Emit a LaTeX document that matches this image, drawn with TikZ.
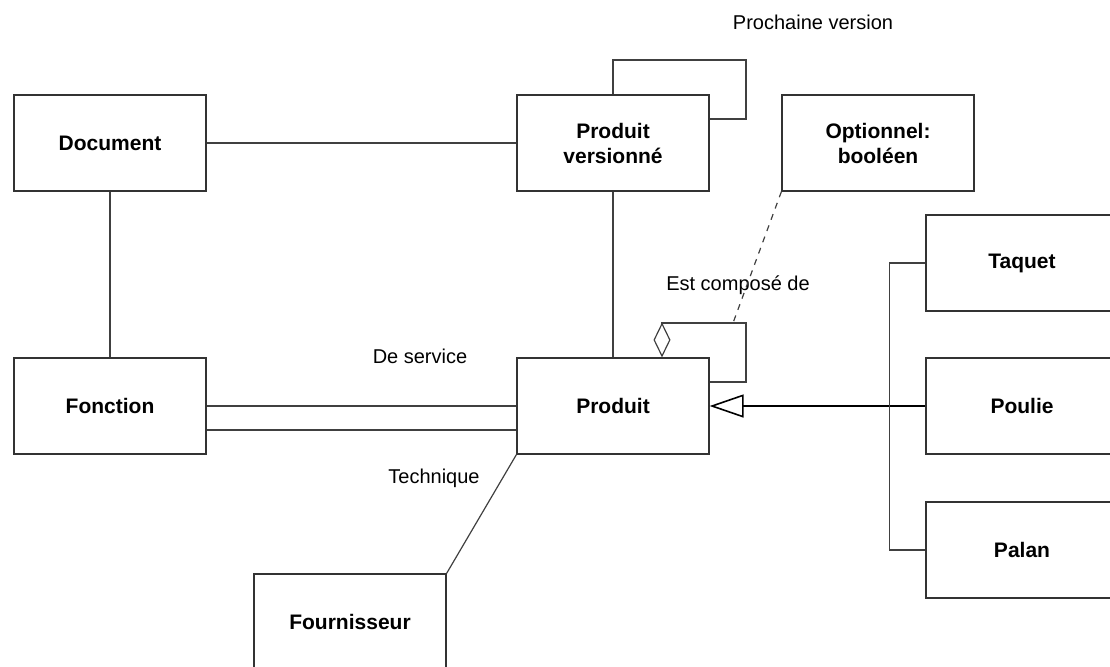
\documentclass[tikz,border=0pt]{standalone}
\usepackage{fontspec}
\setmainfont{Liberation Sans}
\usetikzlibrary{arrows.meta, positioning, calc}

\begin{document}
\begin{tikzpicture}[x=0.5pt, y=-0.5pt,
    classe/.style={rectangle, draw=black!80, line width=0.6pt, minimum width=96pt,
                   minimum height=48pt, align=center, font=\bfseries\fontsize{10.5}{12.5}\selectfont},
    role/.style={font=\fontsize{10}{12}\selectfont},
    assoc/.style={-, line width=0.6pt, black!75}
]
\clip (0,0) rectangle (1110,666);

% Classes
\node[classe] (doc) at (110,143) {Document};
\node[classe] (pv) at (613,143) {Produit\\versionné};
\node[classe] (opt) at (878,143) {Optionnel:\\booléen};
\node[classe] (fn) at (110,406) {Fonction};
\node[classe] (pr) at (613,406) {Produit};
\node[classe] (fo) at (350,622) {Fournisseur};
\node[classe] (taquet) at (1022,263) {Taquet};
\node[classe] (poulie) at (1022,406) {Poulie};
\node[classe] (palan) at (1022,550) {Palan};

% Labels
\node[role] (lversion) at (813,22) {Prochaine version};
\node[role] (lcompose) at (738,285) {Est composé de};
\node[role] (lservice) at (420,356) {De service};
\node[role] (ltech) at (434,478) {Technique};

% Associations
\draw[assoc] (doc) -- (pv);
\draw[assoc] (doc) -- (fn);
\draw[assoc] (pv) -- (pr);
\draw[assoc] (fn.east) -- (pr.west);
\draw[assoc] ($(fn.east)+(0,24)$) -- ($(pr.west)+(0,24)$);
\draw[assoc] (pr.south west) -- (fo.north east);

% Prochaine version
\coordinate (vtop) at (746,60);
\draw[assoc] (pv.north) |- (vtop) |- ($(pv.east)+(0,-24)$);

% Est compose de
\coordinate (aggtop) at (746,323);
\coordinate (aggnote) at (733,323);
\draw[assoc, -{Diamond[open, length=17.5pt, width=8.5pt]}]
    ($(pr.east)+(0,-24)$) -| (aggtop) -| ($(pr.north)+(49,0)$);
\draw[assoc, dashed] (opt.south west) -- (aggnote);

% Heritage
\draw[assoc, line width=0.8pt, black, -{Triangle[open, length=17pt, width=11.5pt]}] (poulie.west) -- (pr.east);
\draw[assoc] (taquet.west) -- ++(-36,0) |- (palan.west);

\end{tikzpicture}
\end{document}
